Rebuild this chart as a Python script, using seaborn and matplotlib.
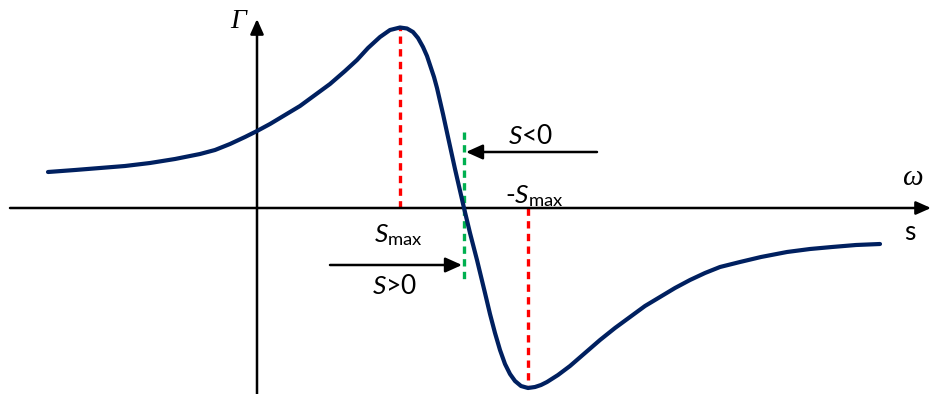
import matplotlib
matplotlib.use("Agg")
import matplotlib.pyplot as plt
import pandas as pd
import seaborn as sns

# Torque–slip characteristic (s measured right of the Γ axis, Γ above the s axis)
slip = [-209, -182, -157, -132, -107, -82, -57, -42, -27, -12, 0, 13, 28, 43, 58,
        73, 88, 100, 111, 123, 133, 143, 150, 156, 161, 166, 170, 173, 177, 180,
        183, 186, 191, 198, 207, 213, 220, 228, 233, 238, 243, 248, 253, 258,
        264, 271, 278, 284, 290, 301, 313, 328, 343, 358, 373, 388, 403, 418,
        433, 448, 463, 483, 504, 530, 553, 575, 599, 623]
torque = [36, 38, 40, 42, 45, 49, 54, 58, 64, 71, 77, 84, 93, 102, 113,
          124, 137, 148, 160, 171, 178, 180.5, 179.5, 176, 170, 161, 152, 143, 131, 120,
          107, 94, 71, 39, 0, -25, -52, -85, -106, -125, -142, -156, -166, -173,
          -178, -180, -179, -177, -174, -167, -158, -145, -132, -120, -109, -98, -89, -80,
          -72, -65, -59, -54, -49, -44, -41, -39, -37, -36]

s_max = 143          # slip at peak torque
s_neg_max = 271      # slip at minimum torque
s_zero = 207         # synchronous point (zero torque)
gamma_peak = 180.5
gamma_min = -180

df = pd.DataFrame({"s": slip, "Gamma": torque})

sns.set_style("white")
plt.rcParams["mathtext.fontset"] = "custom"
plt.rcParams["mathtext.rm"] = "Lato"
plt.rcParams["mathtext.it"] = "Lato:italic"

fig = plt.figure(figsize=(9.32, 3.94), dpi=100)
ax = fig.add_axes([0, 0, 1, 1])
ax.set_xlim(-257, 675)
ax.set_ylim(-186, 208)
ax.axis("off")

arrow_axis = dict(arrowstyle="-|>,head_length=0.9,head_width=0.4",
                  color="black", lw=1.8, shrinkA=0, shrinkB=0)
# coordinate axes with arrow heads
ax.annotate("", xy=(674, 0), xytext=(-247, 0), arrowprops=arrow_axis)
ax.annotate("", xy=(0, 189), xytext=(0, -186), arrowprops=arrow_axis)

# dashed markers for S_max, -S_max and the operating point
dash = dict(lw=2.4, dashes=(2.2, 1.6), zorder=2)
ax.plot([s_max, s_max], [0, gamma_peak], color="#ff0000", **dash)
ax.plot([s_neg_max, s_neg_max], [0, gamma_min], color="#ff0000", **dash)
ax.plot([s_zero, s_zero], [76, -74], color="#00b050", **dash)

sns.lineplot(data=df, x="s", y="Gamma", ax=ax, color="#002060", lw=3.0,
             sort=False, estimator=None, zorder=3)
ax.lines[-1].set_solid_capstyle("round")
ax.lines[-1].set_solid_joinstyle("round")

# direction arrows
arrow_dir = dict(arrowstyle="-|>,head_length=1.0,head_width=0.45",
                 color="black", lw=1.8, shrinkA=0, shrinkB=0)
ax.annotate("", xy=(s_zero + 2, 56), xytext=(340, 56), arrowprops=arrow_dir)
ax.annotate("", xy=(s_zero - 2, -57), xytext=(73, -57), arrowprops=arrow_dir)

txt = dict(fontsize=19, ha="center", va="center", family="Lato", color="black")
ax.text(274, 72, r"$\mathit{S}$<0", **txt)
ax.text(138, -78, r"$\mathit{S}$>0", **txt)
ax.text(141, -27, r"$\mathit{S}_{\mathrm{max}}$", **txt)
ax.text(277, 12, r"-$\mathit{S}_{\mathrm{max}}$", **txt)

ax.text(-19, 186, "Γ", fontsize=20, ha="center", va="center", color="black",
        family="Liberation Serif", style="italic")
ax.text(655, 30, "ω", fontsize=21, ha="center", va="center", color="black",
        family="Liberation Serif", style="italic")
ax.text(653, -24, "s", fontsize=19, ha="center", va="center", color="black",
        family="Lato")

fig.savefig("out.png", dpi=100)
